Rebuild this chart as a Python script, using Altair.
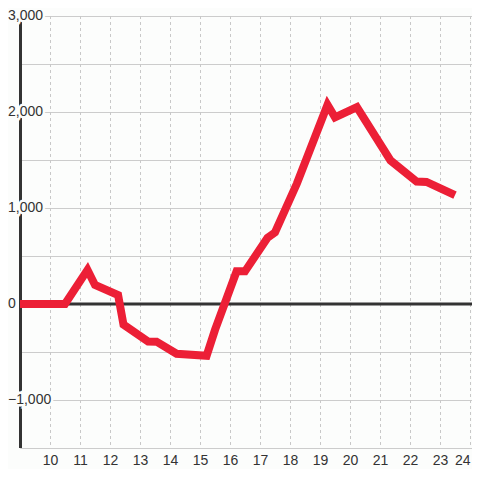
import altair as alt
import pandas as pd

# Series (x = time, y = value)
xs = [9.0, 10.5, 11.25, 11.5, 12.27, 12.45, 13.27, 13.55, 14.22, 15.22, 15.5,
      16.22, 16.5, 17.25, 17.5, 18.23, 19.25, 19.5, 20.23, 21.35, 22.22, 22.55, 23.5]
ys = [0, 0, 355, 198, 94, -215, -390, -392, -518, -540, -270,
      340, 340, 690, 745, 1255, 2075, 1945, 2050, 1495, 1275, 1272, 1135]

x_ticks = list(range(10, 25))
y_grid = [-1500, -1000, -500, 0, 500, 1000, 1500, 2000, 2500, 3000]
y_labels = [-1000, 0, 1000, 2000, 3000]

BG = "#fcfdfc"
FONT = "Liberation Sans"

line_df = pd.DataFrame({"x": xs, "y": ys})
lab_df = pd.DataFrame({"v": y_labels})
xt_df = pd.DataFrame({"x": x_ticks})

xscale = alt.Scale(domain=[9, 24.0667], nice=False, zero=False)
yscale = alt.Scale(domain=[-1500, 3000], nice=False, zero=False)

xax = alt.Axis(values=x_ticks, title=None, domain=False, ticks=False,
               labelFontSize=14, labelFont=FONT, labelColor="#333333",
               labelPadding=5, labelFlush=3, grid=False)
yax = alt.Axis(values=y_grid, title=None, domain=False, ticks=False,
               labels=False, grid=True, gridColor="#cccccc", gridWidth=1)

X = alt.X("x:Q", scale=xscale, axis=xax)
Y = alt.Y("y:Q", scale=yscale, axis=yax)

grid_layer = alt.Chart(line_df).mark_point(opacity=0).encode(x=X, y=Y)

vgrid = alt.Chart(xt_df).mark_rule(
    color="#c8c8c8", strokeWidth=1, strokeDash=[3, 3], xOffset=0.5
).encode(x=X, y=alt.value(0), y2=alt.value(432))

axis_line = alt.Chart(pd.DataFrame({"a": [0]})).mark_rule(
    color="#333333", strokeWidth=3
).encode(x=alt.value(0.5), y=alt.value(0), y2=alt.value(432))

zero_line = alt.Chart(pd.DataFrame({"y": [0]})).mark_rule(
    color="#333333", strokeWidth=3
).encode(y=Y, x=alt.value(0), x2=alt.value(452))

halo = alt.Chart(lab_df).mark_text(
    align="left", baseline="middle", fontSize=14, font=FONT,
    fill=BG, stroke=BG, strokeWidth=5
).encode(
    x=alt.value(-12), y=alt.Y("v:Q", scale=yscale, axis=yax),
    text=alt.Text("v:Q", format=",")
)

labels = alt.Chart(lab_df).mark_text(
    align="left", baseline="middle", fontSize=14, font=FONT, color="#333333"
).encode(
    x=alt.value(-12), y=alt.Y("v:Q", scale=yscale, axis=yax),
    text=alt.Text("v:Q", format=",")
)

red = alt.Chart(line_df).mark_line(
    color="#ec1f36", strokeWidth=8, strokeCap="butt"
).encode(x=X, y=Y)

chart = alt.layer(grid_layer, vgrid, axis_line, zero_line, halo, labels, red).properties(
    width=452, height=432,
    padding={"left": 12, "top": 8, "right": 0, "bottom": 21},
    autosize="none",
).configure_view(stroke=None).configure(background=BG)

chart.save("out.html", embed_options={"renderer": "svg", "actions": False})
